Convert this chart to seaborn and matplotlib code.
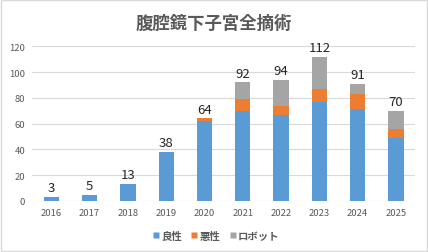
import numpy as np
import matplotlib
matplotlib.use("Agg")
import matplotlib.pyplot as plt
import seaborn as sns
from matplotlib.lines import Line2D
from matplotlib.patches import Rectangle

years = ["2016", "2017", "2018", "2019", "2020", "2021", "2022", "2023", "2024", "2025"]
benign = [3, 5, 13, 38, 62, 70, 67, 77, 71, 49]      # 良性
malignant = [0, 0, 0, 0, 2, 9, 7, 10, 12, 7]         # 悪性
robot = [0, 0, 0, 0, 0, 13, 20, 25, 8, 14]           # ロボット
series_names = ["良性", "悪性", "ロボット"]
colors = ["#5B9BD5", "#ED7D31", "#A5A5A5"]

sns.set_theme(style="white")
plt.rcParams["font.family"] = ["Noto Sans CJK JP", "DejaVu Sans"]

fig = plt.figure(figsize=(4.28, 2.53), dpi=100)
ax = fig.add_axes([0.075, 0.2016, 0.895, 0.6114])

b = np.array(benign)
bm = b + np.array(malignant)
total = bm + np.array(robot)

# stacked bars drawn back to front as cumulative heights
for heights, c in [(total, colors[2]), (bm, colors[1]), (b, colors[0])]:
    sns.barplot(x=years, y=heights, color=c, saturation=1, width=0.4,
                ax=ax, zorder=3, edgecolor="none")

for i, t in enumerate(total):
    ax.annotate(str(t), (i, t), xytext=(0, 2), textcoords="offset points",
                ha="center", va="bottom", fontsize=9.5, color="#262626")

ax.set_ylim(0, 120)
ax.set_xlim(-0.5, 9.5)
ax.set_yticks(range(0, 121, 20))
ax.yaxis.grid(True, color="#D9D9D9", linewidth=0.8, zorder=0)
ax.set_axisbelow(True)
for s in ax.spines.values():
    s.set_visible(False)
ax.tick_params(axis="both", length=0, labelsize=6.8, labelcolor="#595959")
ax.tick_params(axis="y", pad=5)
ax.tick_params(axis="x", pad=5)
ax.set_xlabel("")
ax.set_ylabel("")

fig.text(0.5, 0.905, "腹腔鏡下子宮全摘術", ha="center", va="center",
         fontsize=12.5, fontweight="bold", color="#595959")

handles = [Line2D([0], [0], marker="s", linestyle="none", markersize=5,
                  markerfacecolor=c, markeredgecolor="none") for c in colors]
fig.legend(handles, series_names, loc="center", bbox_to_anchor=(0.505, 0.063),
           ncol=3, frameon=False, handletextpad=0.2, handlelength=0.6,
           columnspacing=0.9, labelcolor="#595959",
           prop={"weight": "bold", "size": 7.5})

fig.patches.append(Rectangle((0.002, 0.003), 0.996, 0.994, transform=fig.transFigure,
                             fill=False, edgecolor="#D9D9D9", linewidth=1))

fig.savefig("out.png", dpi=100)
